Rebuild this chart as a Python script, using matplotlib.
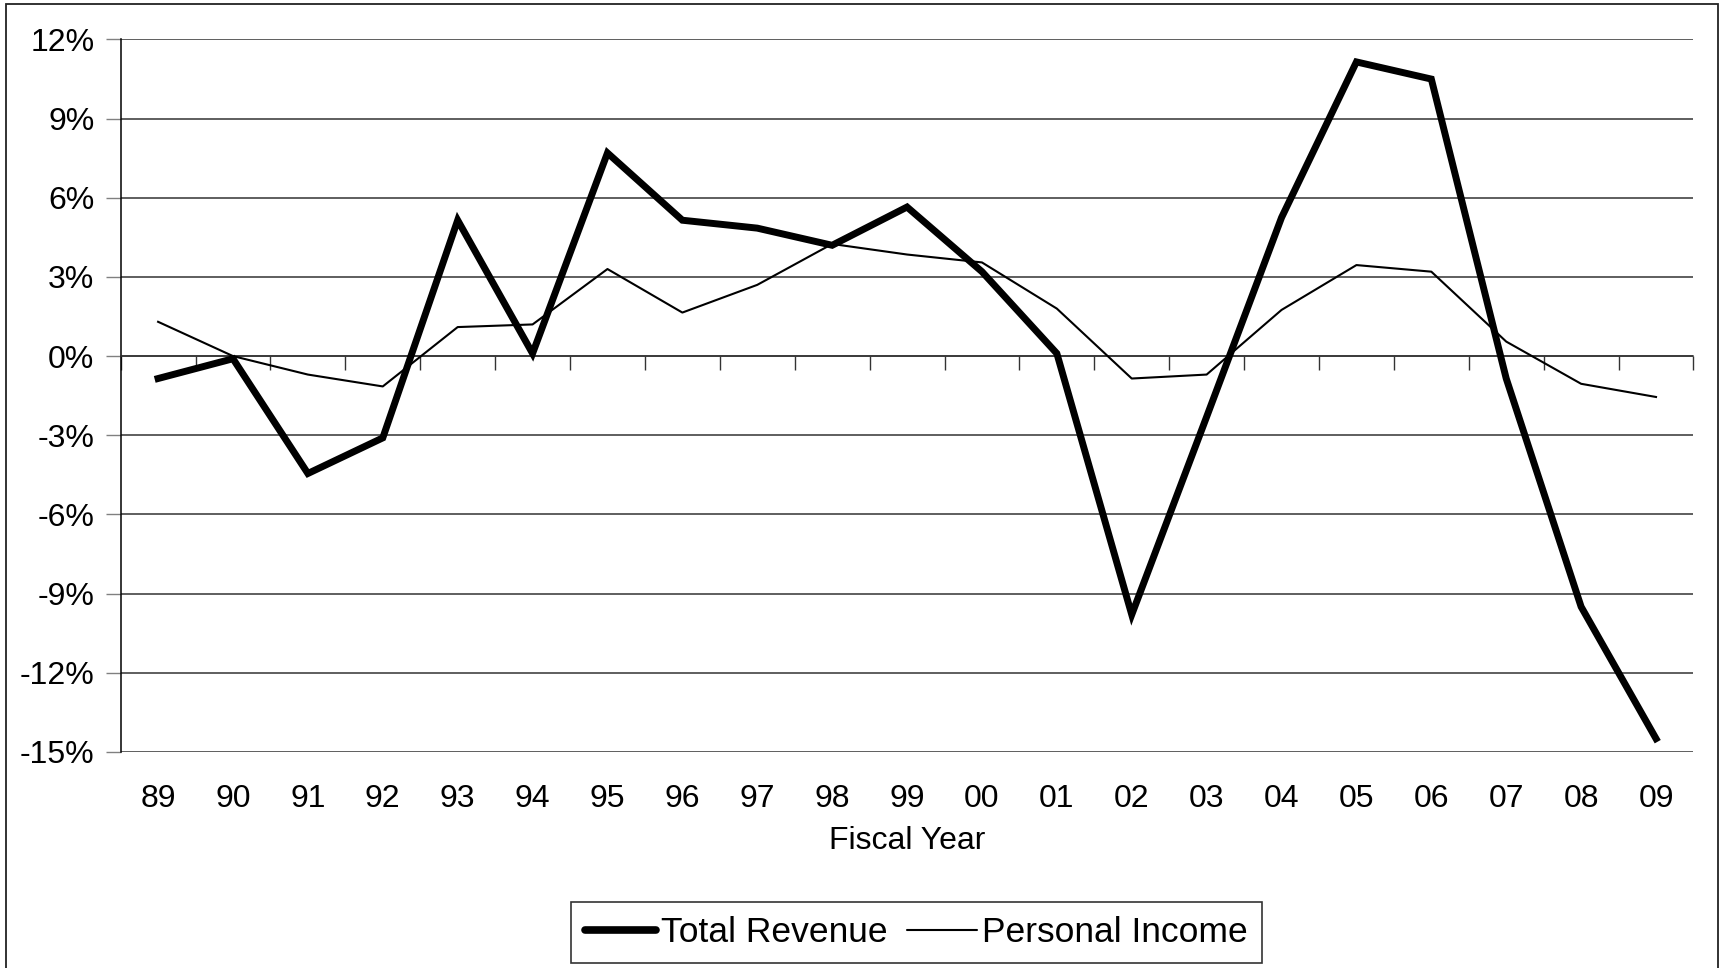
import numpy as np
import matplotlib
matplotlib.use('Agg')
from matplotlib import pyplot as plt
from matplotlib.patches import Rectangle
from matplotlib.ticker import FuncFormatter

plt.rcParams['font.family'] = ['Liberation Sans', 'DejaVu Sans']

years = ['89', '90', '91', '92', '93', '94', '95', '96', '97', '98', '99',
         '00', '01', '02', '03', '04', '05', '06', '07', '08', '09']
total_revenue = [-0.85, -0.1, -4.45, -3.1, 5.15, 0.1, 7.7, 5.15, 4.85, 4.2, 5.65,
                 3.2, 0.1, -9.8, -2.3, 5.25, 11.15, 10.5, -0.85, -9.5, -14.5]
personal_income = [1.3, 0.0, -0.7, -1.15, 1.1, 1.2, 3.3, 1.65, 2.7, 4.25, 3.85,
                   3.55, 1.8, -0.85, -0.7, 1.75, 3.45, 3.2, 0.55, -1.05, -1.55]
y_ticks = [12, 9, 6, 3, 0, -3, -6, -9, -12, -15]

fig = plt.figure(figsize=(17.21, 9.68), dpi=100)
ax = fig.add_axes([0.0701, 0.2233, 0.9139, 0.7359])

x = np.arange(len(years))
ax.plot(x, total_revenue, color='black', lw=5.0, label='Total Revenue',
        solid_joinstyle='miter', zorder=4)
ax.plot(x, personal_income, color='black', lw=1.5, label='Personal Income', zorder=3)

ax.set_xlim(-0.5, len(years) - 0.5)
ax.set_ylim(-15, 12)
ax.set_yticks(y_ticks)
ax.yaxis.set_major_formatter(FuncFormatter(lambda v, p: '%d%%' % v))
ax.tick_params(axis='y', labelsize=23, length=11, width=1, color='#808080', pad=8)
ax.yaxis.grid(True, color='#333333', lw=1.1)
ax.set_axisbelow(True)

# x axis sits on the 0% line, ticks between categories
ax.spines['top'].set_visible(False)
ax.spines['right'].set_visible(False)
ax.spines['left'].set_linewidth(1.1)
ax.spines['bottom'].set_position(('data', 0))
ax.spines['bottom'].set_linewidth(1.1)
ax.spines['bottom'].set_color('#333333')
ax.set_xticks(np.arange(len(years) + 1) - 0.5)
ax.set_xticklabels([])
ax.tick_params(axis='x', direction='out', length=10, width=1, color='#333333')

sec = ax.secondary_xaxis(0)
sec.set_xticks(x)
sec.set_xticklabels(years)
sec.tick_params(length=0, labelsize=23, pad=23)
sec.spines['bottom'].set_visible(False)
sec.set_xlabel('Fiscal Year', fontsize=23, labelpad=9)

leg = ax.legend(loc='center', bbox_to_anchor=(0.5325, 0.0367),
                bbox_transform=fig.transFigure, ncol=2, fontsize=25.5,
                frameon=True, fancybox=False, edgecolor='black',
                handlelength=2.0, handletextpad=0.12, columnspacing=0.55,
                borderpad=0.4, borderaxespad=0)
leg.get_frame().set_linewidth(1.2)
for h in leg.get_lines():
    h.set_solid_capstyle('round')
leg.get_lines()[0].set_linewidth(5.5)

fig.add_artist(Rectangle((0.0035, -0.01), 0.995, 1.0058, transform=fig.transFigure,
                         fill=False, lw=1.3, edgecolor='#222222'))

plt.savefig('out.png', dpi=100)
